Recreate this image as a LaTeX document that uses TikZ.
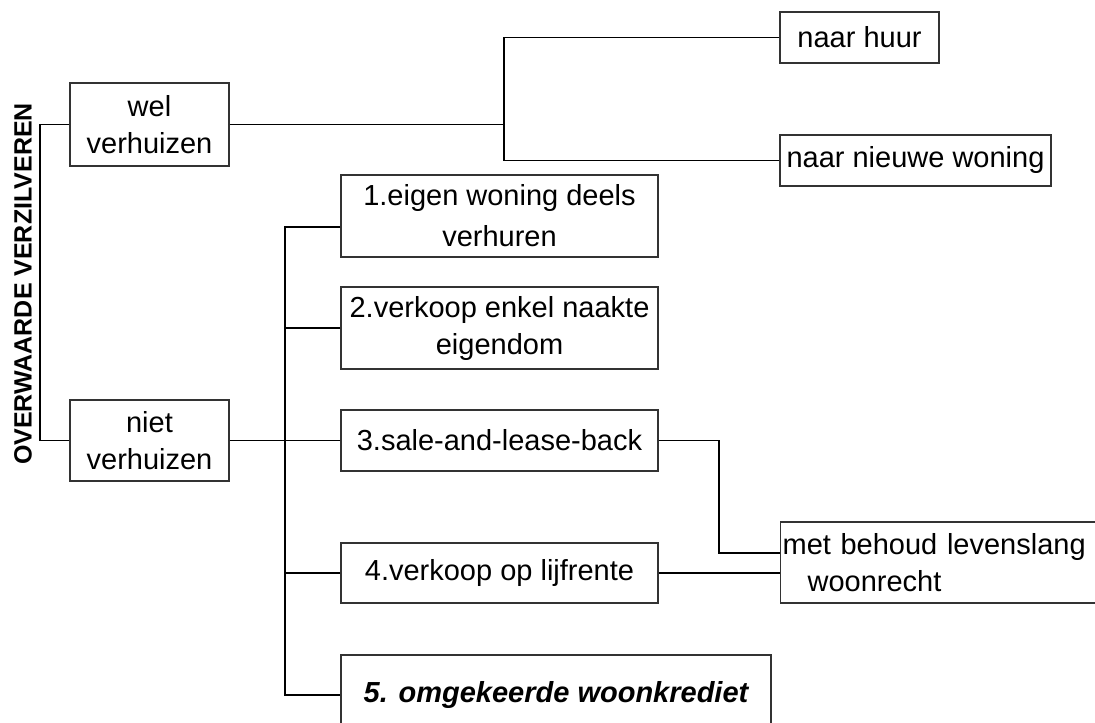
\documentclass[tikz,border=0pt]{standalone}
\usepackage{fontspec}
\setmainfont{Liberation Sans}

\begin{document}
\begin{tikzpicture}[x=0.5pt, y=-0.5pt,
    box/.style={draw=black!80, line width=0.6pt, inner sep=0pt, align=center,
        font=\fontsize{14.5pt}{18.5pt}\selectfont},
    link/.style={line width=0.6pt}]
    \clip (0,0) rectangle (1095,722);

    \node[rotate=90, font=\bfseries\fontsize{12.5pt}{15pt}\selectfont] (title) at (23,284) {OVERWAARDE VERZILVEREN};

    \node[box, minimum width=79.5pt, minimum height=41.5pt] (wel) at (149.5,124.5) {wel\\verhuizen};
    \node[box, minimum width=79.5pt, minimum height=40.5pt] (niet) at (149.5,440.5) {niet\\verhuizen};

    \node[box, minimum width=79.5pt, minimum height=25.5pt] (huur) at (859.5,37.5) {naar huur};
    \node[box, minimum width=135.5pt, minimum height=25.5pt] (nieuw) at (915.5,160.5) {naar nieuwe woning};

    \node[box, minimum width=158.5pt, minimum height=41pt] (deels) at (499.5,216) {1.eigen woning deels\\[2pt]verhuren};
    \node[box, minimum width=158.5pt, minimum height=41pt] (naakt) at (499.5,328) {2.verkoop enkel naakte\\eigendom};
    \node[box, minimum width=158.5pt, minimum height=30.5pt] (sale) at (499.5,440.5) {3.sale-and-lease-back};
    \node[box, minimum width=158.5pt, minimum height=30pt] (lijf) at (499.5,573) {4.verkoop op lijfrente};
    \node[box, minimum width=215pt, minimum height=40pt, font=\bfseries\itshape\fontsize{14.5pt}{18.5pt}\selectfont] (krediet) at (556,695) {5. omgekeerde woonkrediet};

    \node[box, anchor=west, align=left, text width=163pt, inner xsep=1pt, minimum height=40.5pt] (behoud) at (780,562.5) {met behoud levenslang\\\hspace*{12.5pt}woonrecht};

    % verbindingen
    \coordinate (brk) at (40,282);
    \coordinate (split) at (504,100);
    \coordinate (spine) at (285,440);
    \coordinate (knik) at (719,500);

    \draw[link] (wel.west) -| (brk) |- (niet.west);
    \draw[link] (wel.east) -- (wel.east -| split);
    \draw[link] (huur.west) -| (split) |- (nieuw.west);

    \draw[link] (niet.east) -- (niet.east -| spine);
    \draw[link] ([yshift=-5.5pt]deels.west) -| (spine) |- (krediet.west);
    \draw[link] (naakt.west) -- (naakt.west -| spine);
    \draw[link] (sale.west) -- (sale.west -| spine);
    \draw[link] (lijf.west) -- (lijf.west -| spine);

    \draw[link] (sale.east) -| (knik) |- ([yshift=4.75pt]behoud.west);
    \draw[link] (lijf.east) -- (lijf.east -| behoud.west);
\end{tikzpicture}
\end{document}
